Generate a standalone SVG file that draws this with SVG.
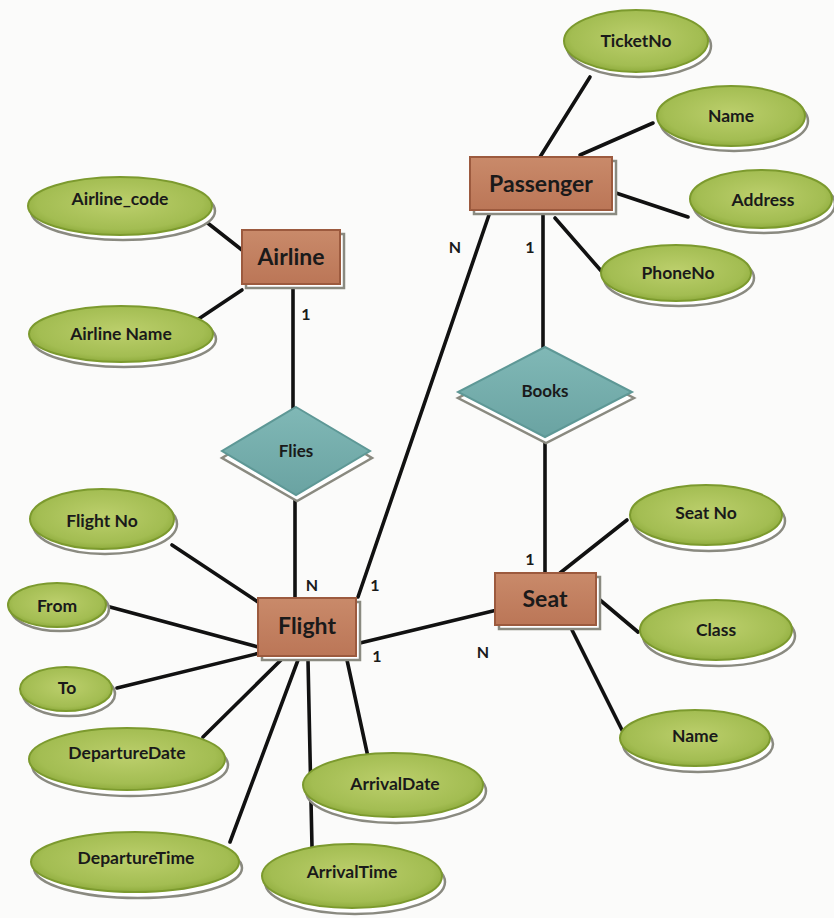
<svg xmlns="http://www.w3.org/2000/svg" width="834" height="918" viewBox="0 0 834 918">
<defs>
<radialGradient id="gAttr" cx="50%" cy="45%" r="60%">
<stop offset="0" stop-color="#bccf6c"/>
<stop offset="0.75" stop-color="#a3bd52"/>
<stop offset="1" stop-color="#86a434"/>
</radialGradient>
<linearGradient id="gEnt" x1="0" y1="0" x2="0" y2="1">
<stop offset="0" stop-color="#c98a6a"/>
<stop offset="1" stop-color="#bb7657"/>
</linearGradient>
<linearGradient id="gRel" x1="0" y1="0" x2="0" y2="1">
<stop offset="0" stop-color="#80b8b6"/>
<stop offset="1" stop-color="#6aa3a2"/>
</linearGradient>
</defs>
<style>
.attr{fill:url(#gAttr);stroke:#7c9a2e;stroke-width:2}
.ent{fill:url(#gEnt);stroke:#9c5a3e;stroke-width:2}
.rel{fill:url(#gRel);stroke:#5e9896;stroke-width:2}
.sh{fill:#ffffff;stroke:#8a8a80;stroke-width:2.5}
.conn line{stroke:#111;stroke-width:3.6;stroke-linecap:round}
text{font-family:"Lato","Liberation Sans",sans-serif;font-weight:bold;fill:#1a1a1a;text-anchor:middle;dominant-baseline:central}
.at{font-size:17.5px}
.et{font-size:23px}
.rt{font-size:17px}
.card{font-size:16px}
</style>
<rect width="834" height="918" fill="#fbfbfa"/>

<g id="connectors" class="conn">
<line x1="590" y1="77" x2="540" y2="157"/>
<line x1="653" y1="123" x2="580" y2="155"/>
<line x1="613" y1="192" x2="688" y2="217"/>
<line x1="555" y1="218" x2="603" y2="273"/>
<line x1="543" y1="212" x2="543" y2="350"/>
<line x1="490" y1="212" x2="358" y2="597"/>
<line x1="200" y1="217" x2="242" y2="250"/>
<line x1="197" y1="320" x2="242" y2="290"/>
<line x1="293" y1="287" x2="293" y2="410"/>
<line x1="295" y1="495" x2="295" y2="598"/>
<line x1="545" y1="438" x2="545" y2="573"/>
<line x1="360" y1="643" x2="497" y2="610"/>
<line x1="172" y1="545" x2="258" y2="602"/>
<line x1="110" y1="607" x2="258" y2="647"/>
<line x1="117" y1="688" x2="260" y2="653"/>
<line x1="203" y1="737" x2="283" y2="658"/>
<line x1="230" y1="842" x2="298" y2="660"/>
<line x1="312" y1="847" x2="308" y2="660"/>
<line x1="368" y1="757" x2="347" y2="660"/>
<line x1="627" y1="520" x2="560" y2="573"/>
<line x1="638" y1="632" x2="600" y2="600"/>
<line x1="623" y1="732" x2="572" y2="630"/>
</g>

<g id="cardinalities">
<text class="card" x="455" y="246">N</text>
<text class="card" x="530" y="246">1</text>
<text class="card" x="306" y="313">1</text>
<text class="card" x="312" y="584">N</text>
<text class="card" x="375" y="584">1</text>
<text class="card" x="377" y="655">1</text>
<text class="card" x="483" y="651">N</text>
<text class="card" x="530" y="558">1</text>
</g>

<g id="Passenger">
<rect class="sh" x="474" y="161" width="142" height="53"/>
<rect class="ent" x="470" y="157" width="142" height="53"/>
<text class="et" x="541" y="183">Passenger</text>
</g>
<g id="Airline">
<rect class="sh" x="246" y="234" width="98" height="54"/>
<rect class="ent" x="242" y="230" width="98" height="54"/>
<text class="et" x="291" y="256">Airline</text>
</g>
<g id="Flight">
<rect class="sh" x="262" y="602" width="98" height="58"/>
<rect class="ent" x="258" y="598" width="98" height="58"/>
<text class="et" x="307" y="625">Flight</text>
</g>
<g id="Seat">
<rect class="sh" x="499" y="577" width="101" height="52"/>
<rect class="ent" x="495" y="573" width="101" height="52"/>
<text class="et" x="545" y="598">Seat</text>
</g>

<g id="Flies">
<polygon class="sh" points="297,413 372,458 297,501 222,458"/>
<polygon class="rel" points="296,407 370,451 296,495 222,451"/>
<text class="rt" x="296" y="450">Flies</text>
</g>
<g id="Books">
<polygon class="sh" points="546,353 634,398 546,443 458,398"/>
<polygon class="rel" points="545,347 632,392 545,437 458,392"/>
<text class="rt" x="545" y="390">Books</text>
</g>

<g id="TicketNo">
<ellipse class="sh" cx="639" cy="46" rx="72" ry="31"/>
<ellipse class="attr" cx="636" cy="41" rx="72" ry="31"/>
<text class="at" x="636" y="40">TicketNo</text>
</g>
<g id="PassengerName">
<ellipse class="sh" cx="734" cy="121" rx="74" ry="30"/>
<ellipse class="attr" cx="731" cy="116" rx="74" ry="30"/>
<text class="at" x="731" y="115">Name</text>
</g>
<g id="Address">
<ellipse class="sh" cx="764" cy="204" rx="71" ry="29"/>
<ellipse class="attr" cx="761" cy="199" rx="71" ry="29"/>
<text class="at" x="763" y="199">Address</text>
</g>
<g id="PhoneNo">
<ellipse class="sh" cx="679" cy="278" rx="75" ry="28"/>
<ellipse class="attr" cx="676" cy="273" rx="75" ry="28"/>
<text class="at" x="678" y="272">PhoneNo</text>
</g>
<g id="Airline_code">
<ellipse class="sh" cx="123" cy="211" rx="92" ry="29"/>
<ellipse class="attr" cx="120" cy="206" rx="92" ry="29"/>
<text class="at" x="120" y="198">Airline_code</text>
</g>
<g id="AirlineName">
<ellipse class="sh" cx="124" cy="339" rx="92" ry="28"/>
<ellipse class="attr" cx="121" cy="334" rx="92" ry="28"/>
<text class="at" x="121" y="333">Airline Name</text>
</g>
<g id="FlightNo">
<ellipse class="sh" cx="105" cy="524" rx="72" ry="30"/>
<ellipse class="attr" cx="102" cy="519" rx="72" ry="30"/>
<text class="at" x="102" y="520">Flight No</text>
</g>
<g id="From">
<ellipse class="sh" cx="60" cy="609" rx="49" ry="22"/>
<ellipse class="attr" cx="57" cy="605" rx="49" ry="22"/>
<text class="at" x="57" y="605">From</text>
</g>
<g id="To">
<ellipse class="sh" cx="69" cy="694" rx="46" ry="22"/>
<ellipse class="attr" cx="66" cy="689" rx="46" ry="22"/>
<text class="at" x="67" y="687">To</text>
</g>
<g id="DepartureDate">
<ellipse class="sh" cx="130" cy="765" rx="98" ry="31"/>
<ellipse class="attr" cx="127" cy="759" rx="98" ry="31"/>
<text class="at" x="127" y="752">DepartureDate</text>
</g>
<g id="DepartureTime">
<ellipse class="sh" cx="138" cy="868" rx="104" ry="30"/>
<ellipse class="attr" cx="135" cy="862" rx="104" ry="30"/>
<text class="at" x="136" y="857">DepartureTime</text>
</g>
<g id="ArrivalDate">
<ellipse class="sh" cx="396" cy="791" rx="90" ry="32"/>
<ellipse class="attr" cx="393" cy="785" rx="90" ry="32"/>
<text class="at" x="395" y="783">ArrivalDate</text>
</g>
<g id="ArrivalTime">
<ellipse class="sh" cx="355" cy="882" rx="90" ry="32"/>
<ellipse class="attr" cx="352" cy="876" rx="90" ry="32"/>
<text class="at" x="352" y="871">ArrivalTime</text>
</g>
<g id="SeatNo">
<ellipse class="sh" cx="709" cy="521" rx="76" ry="30"/>
<ellipse class="attr" cx="706" cy="515" rx="76" ry="30"/>
<text class="at" x="706" y="512">Seat No</text>
</g>
<g id="Class">
<ellipse class="sh" cx="719" cy="636" rx="76" ry="30"/>
<ellipse class="attr" cx="716" cy="630" rx="76" ry="30"/>
<text class="at" x="716" y="629">Class</text>
</g>
<g id="SeatName">
<ellipse class="sh" cx="698" cy="744" rx="75" ry="28"/>
<ellipse class="attr" cx="695" cy="738" rx="75" ry="28"/>
<text class="at" x="695" y="735">Name</text>
</g>
</svg>
